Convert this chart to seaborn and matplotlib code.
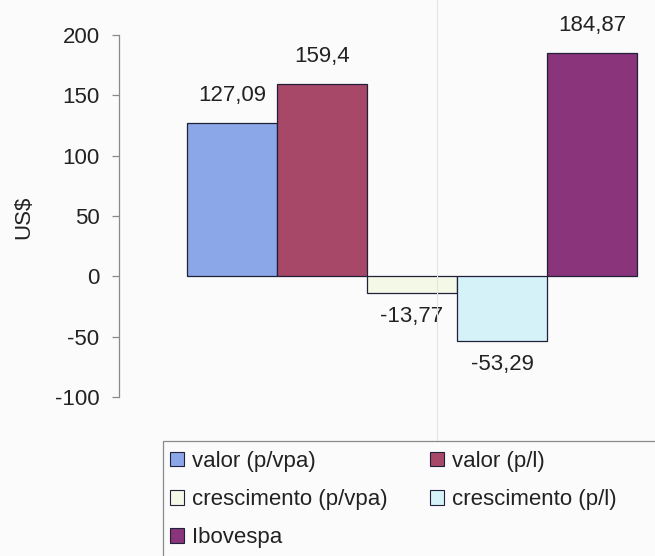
import matplotlib
matplotlib.use("Agg")
import matplotlib.pyplot as plt
from matplotlib.patches import Rectangle, Patch
from matplotlib.lines import Line2D
import seaborn as sns
import pandas as pd

# Series shown as one bar each
series = ["valor (p/vpa)", "valor (p/l)", "crescimento (p/vpa)",
          "crescimento (p/l)", "Ibovespa"]
values = [127.09, 159.4, -13.77, -53.29, 184.87]
value_labels = ["127,09", "159,4", "-13,77", "-53,29", "184,87"]
colors = ["#8ca7e8", "#a84868", "#f4f8e6", "#d4f2f8", "#8a347c"]
yticks = [-100, -50, 0, 50, 100, 150, 200]

sns.set_theme(style="white")
plt.rcParams["font.family"] = ["Liberation Sans", "DejaVu Sans"]
FS = 16
TXT = "#222222"

W, H = 655, 556
fig = plt.figure(figsize=(W / 100, H / 100), dpi=100, facecolor="#fbfbfb")
ax = fig.add_axes([119 / W, 1 - 397 / H, (655 - 119) / W, (397 - 35) / H])
ax.set_facecolor("#fbfbfb")

df = pd.DataFrame({"serie": series, "valor": values})
sns.barplot(data=df, x="serie", y="valor", hue="serie", order=series,
            hue_order=series, palette=colors, dodge=False, width=1.0,
            edgecolor="#20203a", linewidth=0.9, saturation=1, legend=False,
            ax=ax)

ax.set_xlim(-1.256, 4.7)
ax.set_ylim(-100, 200)
ax.set_yticks(yticks)
ax.set_yticklabels([str(t) for t in yticks])
ax.set_xticks([])
ax.set_xlabel("")
ax.set_ylabel("US$", fontsize=FS, color=TXT)
ax.yaxis.set_label_coords((34 - 119) / (655 - 119), (397 - 217) / (397 - 35))

for side in ["top", "right", "bottom"]:
    ax.spines[side].set_visible(False)
ax.spines["left"].set_color("#8a8a8a")
ax.spines["left"].set_linewidth(0.9)
ax.tick_params(axis="y", direction="out", length=5, width=0.9,
               color="#8a8a8a", labelsize=FS, labelcolor=TXT, pad=9,
               left=True)

# Value labels placed just beyond each bar end
for i, (v, lab) in enumerate(zip(values, value_labels)):
    off = 20 if v >= 0 else -17
    ax.annotate(lab, xy=(i, v), xytext=(0, off),
                textcoords="offset points", ha="center", va="center",
                fontsize=FS, color=TXT)

# Faint vertical fold line across the page
fig.add_artist(Line2D([437 / W, 437 / W], [0, 1], color="#e4e4e4",
                      linewidth=0.8, transform=fig.transFigure))

# Legend box running past the page edge
fig.add_artist(Rectangle((163 / W, 1 - 570 / H), (680 - 163) / W,
                         (570 - 441) / H, transform=fig.transFigure,
                         facecolor="#fbfbfb", edgecolor="#8a8a8a",
                         linewidth=0.9, zorder=2))
# Row-wise order for a two-column legend
order = [0, 2, 4, 1, 3]
handles = [Patch(facecolor=colors[k], edgecolor="#20203a", linewidth=0.8)
           for k in order]
labels = [series[k] for k in order]
leg = fig.legend(handles=handles, labels=labels, ncol=2,
                 loc="upper left", bbox_to_anchor=(170 / W, 1 - 451 / H),
                 frameon=False, fontsize=FS, handlelength=0.63,
                 handleheight=0.63, handletextpad=0.36, columnspacing=1.9,
                 labelspacing=0.77, borderpad=0.0, borderaxespad=0)
leg.set_zorder(3)
for t in leg.get_texts():
    t.set_color(TXT)

fig.savefig("out.png", dpi=100, facecolor=fig.get_facecolor())
